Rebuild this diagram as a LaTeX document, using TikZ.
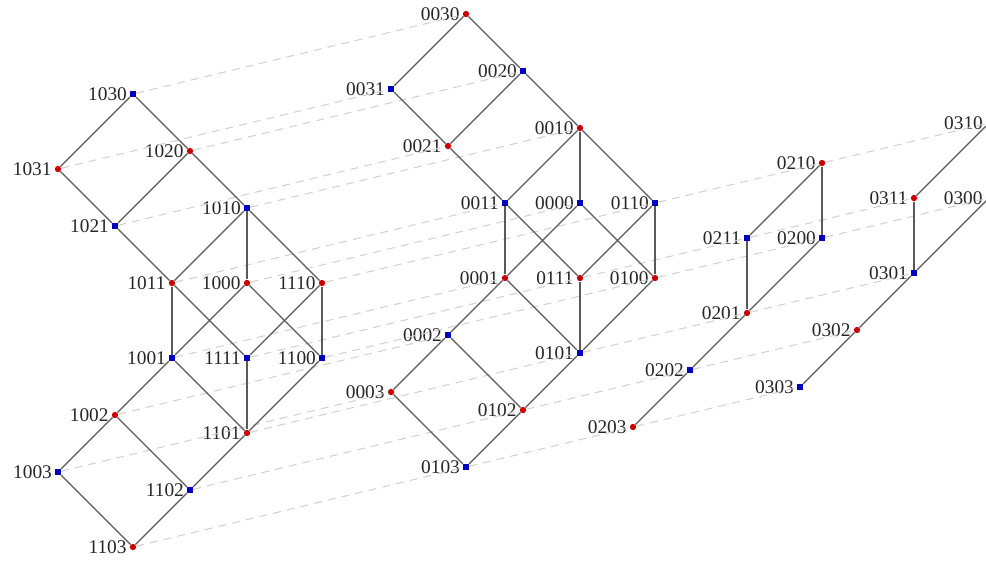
\documentclass[tikz,border=0pt]{standalone}
\usepackage{fontspec}
\setmainfont{Liberation Serif}
\usepackage{tikz}
\usetikzlibrary{positioning}

\begin{document}
\begin{tikzpicture}[
  x=0.02cm, y=-0.02cm,
  oddpt/.style={circle, fill=red!80!black, inner sep=0pt, minimum size=3.6pt},
  evenpt/.style={rectangle, fill=blue!75!black, inner sep=0pt, minimum size=3.2pt},
  lbl/.style={font=\fontsize{11}{12}\selectfont, text=black!85, inner sep=1pt, label distance=0.5pt},
  edge/.style={draw=black!65, line width=0.75pt},
  link/.style={draw=black!18, line width=0.6pt, dash pattern=on 4.5pt off 3.5pt}
]
\useasboundingbox (0,0) rectangle (986,562);

% Left lattice (1bcd)
\foreach \n/\x/\y/\s in {1030/133/94/evenpt, 1031/58/169/oddpt, 1020/190/151/oddpt, 1021/115/226/evenpt,
  1010/247/208/evenpt, 1011/172/283/oddpt, 1000/247/283/oddpt, 1110/322/283/oddpt,
  1001/172/358/evenpt, 1111/247/358/evenpt, 1100/322/358/evenpt, 1002/115/415/oddpt,
  1101/247/433/oddpt, 1003/58/472/evenpt, 1102/190/490/evenpt, 1103/133/547/oddpt}
  \node[\s, label={[lbl]left:\n}] (n\n) at (\x,\y) {};

% Middle lattice (0bcd)
\foreach \n/\x/\y/\s in {0030/466/14/oddpt, 0031/391/89/evenpt, 0020/523/71/evenpt, 0021/448/146/oddpt,
  0010/580/128/oddpt, 0011/505/203/evenpt, 0000/580/203/evenpt, 0110/655/203/evenpt,
  0001/505/278/oddpt, 0111/580/278/oddpt, 0100/655/278/oddpt, 0002/448/335/evenpt,
  0101/580/353/evenpt, 0003/391/392/oddpt, 0102/523/410/oddpt, 0103/466/467/evenpt}
  \node[\s, label={[lbl]left:\n}] (n\n) at (\x,\y) {};

% b = 2 and b = 3 strips
\foreach \n/\x/\y/\s in {0210/822/163/oddpt, 0211/747/238/evenpt, 0200/822/238/evenpt,
  0201/747/313/oddpt, 0202/690/370/evenpt, 0203/633/427/oddpt,
  0310/989/123/evenpt, 0311/914/198/oddpt, 0300/989/198/oddpt,
  0301/914/273/evenpt, 0302/857/330/oddpt, 0303/800/387/evenpt}
  \node[\s, label={[lbl]left:\n}] (n\n) at (\x,\y) {};

% dashed links between copies
\foreach \t in {030,031,020,021,010,011,000,110,001,111,100,002,101,003,102,103}
  \draw[link] (n1\t) -- (n0\t);
\foreach \t in {10,11,00,01,02,03}
  \draw[link] (n01\t) -- (n02\t) -- (n03\t);

% lattice edges
\foreach \a in {1,0}
  \foreach \u/\v in {030/031, 030/020, 031/021, 020/021, 020/010, 021/011, 010/011, 010/000,
    010/110, 011/001, 011/111, 000/001, 000/100, 110/111, 110/100, 001/002, 001/101,
    111/101, 100/101, 002/003, 002/102, 101/102, 003/103, 102/103}
    \draw[edge] (n\a\u) -- (n\a\v);
\foreach \u/\v in {0210/0211, 0210/0200, 0211/0201, 0200/0201, 0201/0202, 0202/0203,
  0310/0311, 0311/0301, 0300/0301, 0301/0302, 0302/0303}
  \draw[edge] (n\u) -- (n\v);

\end{tikzpicture}
\end{document}
